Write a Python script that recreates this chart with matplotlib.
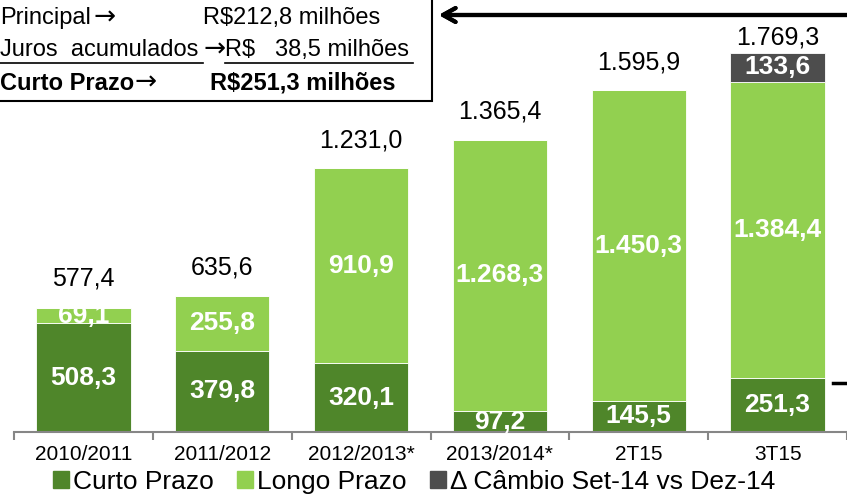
from matplotlib import pyplot as plt
from matplotlib.patches import Rectangle, Patch
from matplotlib.lines import Line2D

plt.rcParams['font.family'] = ['Liberation Sans', 'DejaVu Sans']

categorias = ['2010/2011', '2011/2012', '2012/2013*', '2013/2014*', '2T15', '3T15']
curto = [508.3, 379.8, 320.1, 97.2, 145.5, 251.3]
longo = [69.1, 255.8, 910.9, 1268.3, 1450.3, 1384.4]
cambio = [0, 0, 0, 0, 0, 133.6]
totais = [577.4, 635.6, 1231.0, 1365.4, 1595.9, 1769.3]

verde_esc = '#4F862A'
verde_cla = '#92D050'
cinza = '#4D4D4D'

W, H = 847, 496


def fmt(v):
    # formato brasileiro: 1.234,5
    s = f"{v:,.1f}"
    return s.replace(',', 'X').replace('.', ',').replace('X', '.')


def px(x, y):
    # pixels (topo-esquerda) -> fração da figura
    return x / W, 1 - y / H


fig = plt.figure(figsize=(W / 100, H / 100), dpi=100)
ax = fig.add_axes([14 / W, 64 / H, 833 / W, 432 / H])

x = range(len(categorias))
base2 = [a + b for a, b in zip(curto, longo)]
b1 = ax.bar(x, curto, width=0.68, color=verde_esc, edgecolor='white', linewidth=0.6)
b2 = ax.bar(x, longo, width=0.68, bottom=curto, color=verde_cla, edgecolor='white', linewidth=0.6)
b3 = ax.bar(x, cambio, width=0.68, bottom=base2, color=cinza, edgecolor='white', linewidth=0.6)

for barras, vals in [(b1, curto), (b2, longo), (b3, cambio)]:
    labs = [fmt(v) if v > 0 else '' for v in vals]
    ax.bar_label(barras, labels=labs, label_type='center', color='white',
                 fontsize=19, fontweight='bold')

# totais acima das barras
pad = [18, 16, 16, 16, 16, 4]
topos = [a + c for a, c in zip(base2, cambio)]
for i, t in enumerate(totais):
    ax.annotate(fmt(t), (i, topos[i]), xytext=(0, pad[i]), textcoords='offset pixels',
                ha='center', va='bottom', fontsize=18)

ax.set_xlim(-0.5, 5.5)
ax.set_ylim(0, 2017)
ax.set_yticks([])
for s in ['top', 'right', 'left']:
    ax.spines[s].set_visible(False)
ax.spines['bottom'].set_color('#868686')
ax.spines['bottom'].set_linewidth(1.5)
ax.set_xticks([i - 0.5 for i in range(7)], minor=False)
ax.set_xticklabels([])
ax.tick_params(axis='x', which='major', length=6, color='#868686', width=1.5)
ax.set_xticks(list(x), minor=True)
ax.set_xticklabels(categorias, minor=True, fontsize=15)
ax.tick_params(axis='x', which='minor', length=0, pad=9)

# legenda
handles = [Patch(color=verde_esc), Patch(color=verde_cla), Patch(color=cinza)]
fig.legend(handles, ['Curto Prazo', 'Longo Prazo', 'Δ Câmbio Set-14 vs Dez-14'],
           loc='center', bbox_to_anchor=(px(414, 482)), ncol=3, frameon=False,
           fontsize=19, handlelength=0.6, handleheight=0.6, handletextpad=0.15,
           columnspacing=0.9, borderaxespad=0, borderpad=0)

# caixa de texto do curto prazo
x0, y0 = px(-3, 101)
fig.patches.append(Rectangle((x0, y0), 435 / W, 110 / H, transform=fig.transFigure,
                             fill=False, edgecolor='black', linewidth=1.5))
seta = dict(fontsize=19, va='center', family=['DejaVu Sans'])
fig.text(*px(0, 18), 'Principal', fontsize=17, va='center')
fig.text(*px(93, 18), '→', **seta)
fig.text(*px(203, 18), 'R$212,8 milhões', fontsize=17, va='center')
fig.text(*px(0, 50), 'Juros  acumulados', fontsize=17, va='center')
fig.text(*px(203, 50), '→', **seta)
fig.text(*px(225, 50), 'R$   38,5 milhões', fontsize=17, va='center')
fig.text(*px(0, 83), 'Curto Prazo', fontsize=17, va='center', fontweight='bold')
fig.text(*px(135, 83), '→', **seta)
fig.text(*px(210, 83), 'R$251,3 milhões', fontsize=17, va='center', fontweight='bold')
for xa, xb in [(0, 203), (225, 413)]:
    fig.lines.append(Line2D([xa / W, xb / W], [1 - 63 / H] * 2, transform=fig.transFigure,
                            color='black', linewidth=1.2))

# seta e traço à direita
fig.add_artist(plt.annotate('', xy=px(436, 15), xytext=px(850, 15), xycoords='figure fraction',
                            arrowprops=dict(arrowstyle='->,head_length=0.9,head_width=0.5',
                                            color='black', lw=3)))
fig.lines.append(Line2D([833 / W, 847 / W], [1 - 383 / H] * 2, transform=fig.transFigure,
                        color='black', linewidth=2.5))

plt.savefig('out.png', dpi=100)
